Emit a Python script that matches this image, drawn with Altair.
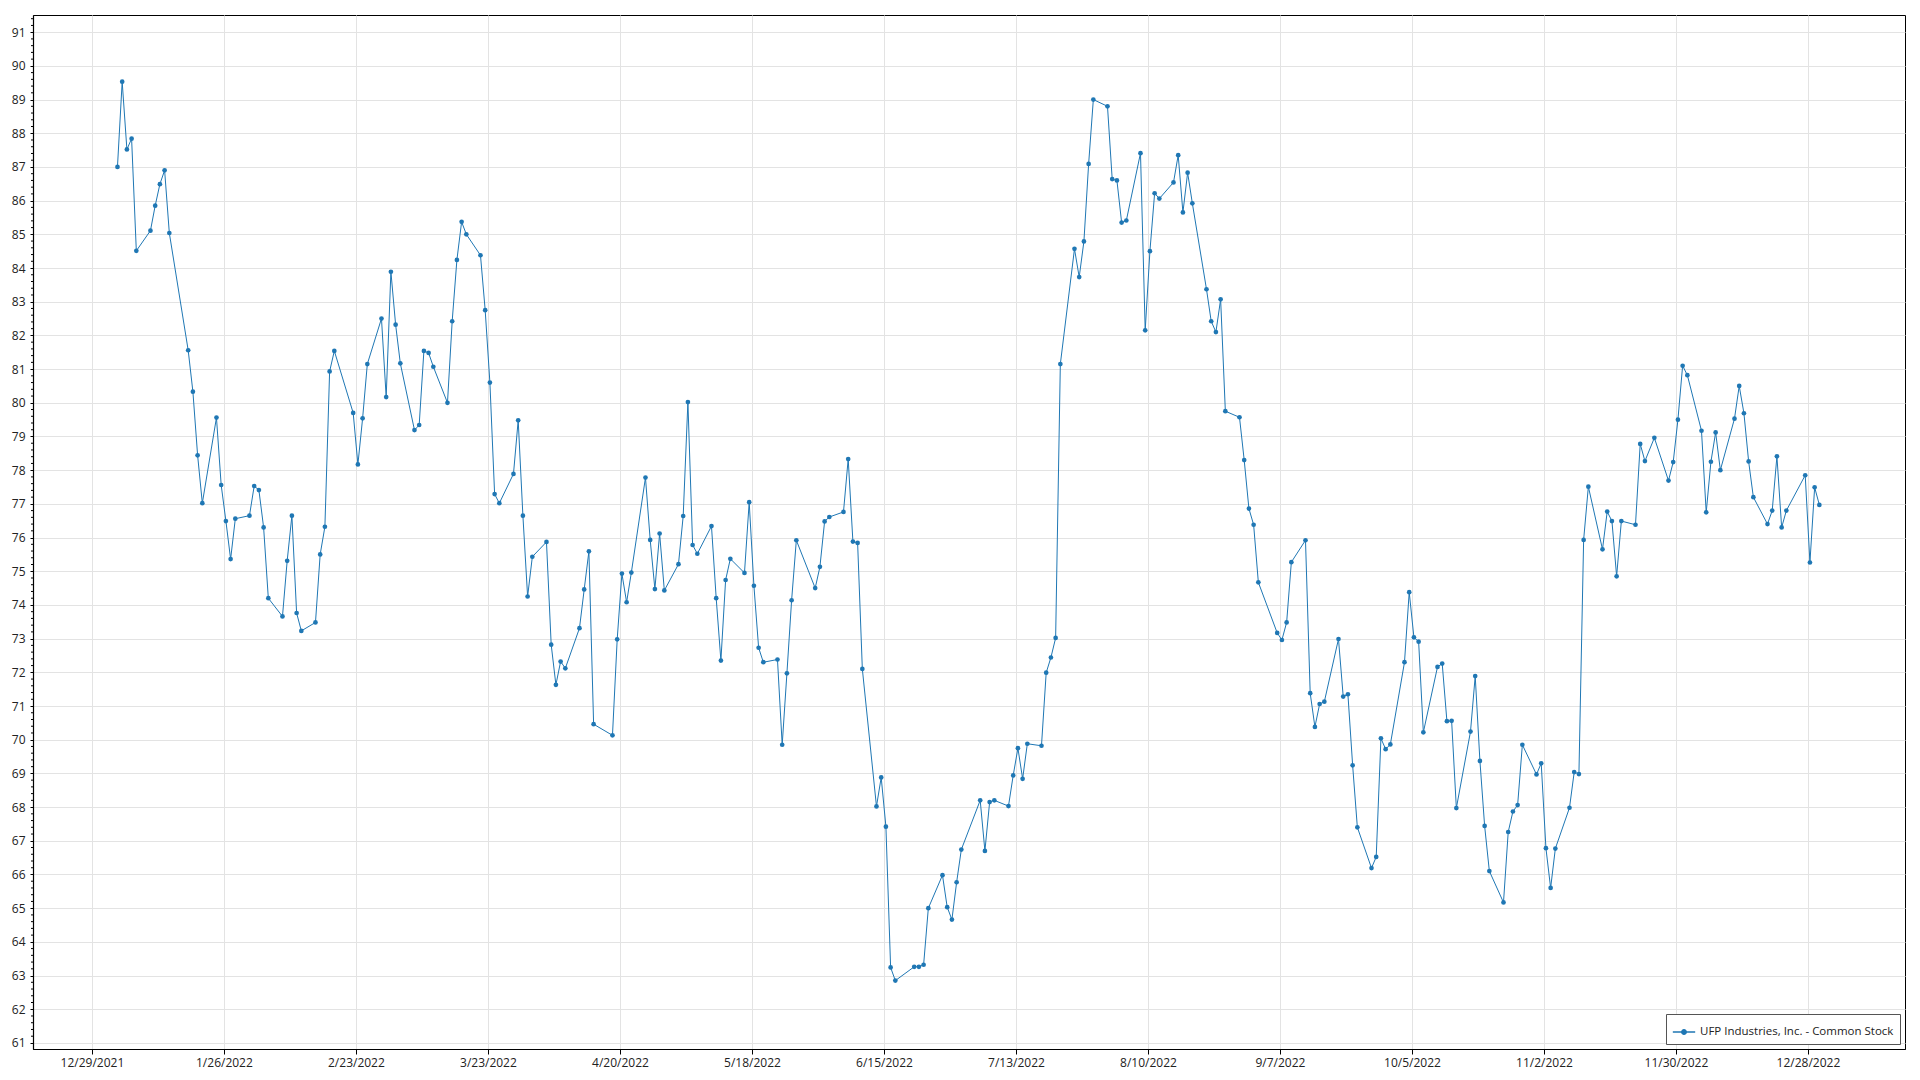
import altair as alt
import pandas as pd

SERIES = "UFP Industries, Inc. - Common Stock"
COLOR = "#1f77b4"
FONT = "Segoe UI, Open Sans, Noto Sans, sans-serif"

# Trading days (day of month) and closing prices, 2022
days_jan = [3, 4, 5, 6, 7, 10, 11, 12, 13, 14, 18, 19, 20, 21, 24, 25, 26, 27, 28, 31]
close_jan = [87.0, 89.53, 87.52, 87.84, 84.51, 85.11, 85.85, 86.49, 86.9, 85.04,
             81.56, 80.33, 78.44, 77.02, 79.56, 77.56, 76.49, 75.36, 76.56, 76.65]
days_feb = [1, 2, 3, 4, 7, 8, 9, 10, 11, 14, 15, 16, 17, 18, 22, 23, 24, 25, 28]
close_feb = [77.53, 77.41, 76.3, 74.2, 73.66, 75.31, 76.65, 73.76, 73.23, 73.48,
             75.5, 76.32, 80.93, 81.54, 79.7, 78.17, 79.54, 81.15, 82.5]
days_mar = [1, 2, 3, 4, 7, 8, 9, 10, 11, 14, 15, 16, 17, 18, 21, 22, 23, 24, 25, 28, 29, 30, 31]
close_mar = [80.17, 83.89, 82.32, 81.17, 79.19, 79.34, 81.54, 81.48, 81.07, 80.0,
             82.42, 84.24, 85.37, 85.0, 84.38, 82.75, 80.6, 77.29, 77.02, 77.89,
             79.48, 76.65, 74.25]
days_apr = [1, 4, 5, 6, 7, 8, 11, 12, 13, 14, 18, 19, 20, 21, 22, 25, 26, 27, 28, 29]
close_apr = [75.43, 75.87, 72.82, 71.63, 72.32, 72.12, 73.31, 74.46, 75.59, 70.46,
             70.13, 72.98, 74.93, 74.08, 74.96, 77.78, 75.93, 74.47, 76.12, 74.43]
days_may = [2, 3, 4, 5, 6, 9, 10, 11, 12, 13, 16, 17, 18, 19, 20, 23, 24, 25, 26, 27, 31]
close_may = [75.21, 76.64, 80.02, 75.78, 75.52, 76.34, 74.2, 72.35, 74.74, 75.37,
             74.95, 77.05, 74.57, 72.73, 72.3, 72.38, 69.85, 71.97, 74.14, 75.92, 74.5]
days_jun = [1, 2, 3, 6, 7, 8, 9, 10, 13, 14, 15, 16, 17, 21, 22, 23, 24, 27, 28, 29, 30]
close_jun = [75.13, 76.48, 76.61, 76.76, 78.33, 75.88, 75.84, 72.1, 68.02, 68.88,
             67.42, 63.24, 62.85, 63.26, 63.26, 63.32, 65.0, 65.98, 65.03, 64.66, 65.77]
days_jul = [1, 5, 6, 7, 8, 11, 12, 13, 14, 15, 18, 19, 20, 21, 22, 25, 26, 27, 28, 29]
close_jul = [66.74, 68.2, 66.7, 68.15, 68.2, 68.03, 68.94, 69.75, 68.84, 69.88,
             69.82, 71.99, 72.44, 73.02, 81.15, 84.57, 83.73, 84.79, 87.09, 89.0]
days_aug = [1, 2, 3, 4, 5, 8, 9, 10, 11, 12, 15, 16, 17, 18, 19, 22, 23, 24, 25, 26, 29, 30, 31]
close_aug = [88.8, 86.64, 86.6, 85.35, 85.41, 87.41, 82.15, 84.5, 86.22, 86.06,
             86.54, 87.35, 85.65, 86.83, 85.92, 83.37, 82.42, 82.1, 83.07, 79.75,
             79.57, 78.3, 76.86]
days_sep = [1, 2, 6, 7, 8, 9, 12, 13, 14, 15, 16, 19, 20, 21, 22, 23, 26, 27, 28, 29, 30]
close_sep = [76.38, 74.67, 73.17, 72.96, 73.48, 75.27, 75.92, 71.38, 70.38, 71.06,
             71.13, 72.99, 71.28, 71.35, 69.24, 67.4, 66.19, 66.52, 70.04, 69.72, 69.86]
days_oct = [3, 4, 5, 6, 7, 10, 11, 12, 13, 14, 17, 18, 19, 20, 21, 24, 25, 26, 27, 28, 31]
close_oct = [72.3, 74.38, 73.04, 72.91, 70.22, 72.16, 72.26, 70.55, 70.56, 67.97,
             70.24, 71.89, 69.37, 67.44, 66.1, 65.17, 67.26, 67.87, 68.06, 69.85, 68.97]
days_nov = [1, 2, 3, 4, 7, 8, 9, 10, 11, 14, 15, 16, 17, 18, 21, 22, 23, 25, 28, 29, 30]
close_nov = [69.3, 66.78, 65.6, 66.77, 67.98, 69.04, 68.98, 75.93, 77.51, 75.65,
             76.77, 76.49, 74.85, 76.49, 76.38, 78.78, 78.27, 78.96, 77.69, 78.24, 79.5]
days_dec = [1, 2, 5, 6, 7, 8, 9, 12, 13, 14, 15, 16, 19, 20, 21, 22, 23, 27, 28, 29, 30]
close_dec = [81.1, 80.82, 79.17, 76.75, 78.25, 79.12, 78.0, 79.53, 80.5, 79.69,
             78.26, 77.2, 76.4, 76.8, 78.41, 76.3, 76.8, 77.85, 75.26, 77.49, 76.97]

# x-axis tick dates (every 4 weeks)
tick_dates = [(2021, 12, 29), (2022, 1, 26), (2022, 2, 23), (2022, 3, 23), (2022, 4, 20),
              (2022, 5, 18), (2022, 6, 15), (2022, 7, 13), (2022, 8, 10), (2022, 9, 7),
              (2022, 10, 5), (2022, 11, 2), (2022, 11, 30), (2022, 12, 28)]
y_ticks = list(range(61, 92))
# minor y ticks: four between each pair of labelled values
y_minor_steps = [0.2, 0.4, 0.6, 0.8]
y_minor = [round(k + t, 1) for k in range(60, 92) for t in y_minor_steps
           if 60.82 < k + t < 91.51]

months = [(1, days_jan, close_jan), (2, days_feb, close_feb), (3, days_mar, close_mar),
          (4, days_apr, close_apr), (5, days_may, close_may), (6, days_jun, close_jun),
          (7, days_jul, close_jul), (8, days_aug, close_aug), (9, days_sep, close_sep),
          (10, days_oct, close_oct), (11, days_nov, close_nov), (12, days_dec, close_dec)]
rows = []
for m, ds, cs in months:
    for d, c in zip(ds, cs):
        rows.append({"date": f"2022-{m:02d}-{d:02d}T10:00:00Z", "close": c, "series": SERIES})
df = pd.DataFrame(rows)
minor_df = pd.DataFrame({"close": y_minor})

tick_vals = [alt.DateTime(year=y, month=m, date=d, utc=True) for (y, m, d) in tick_dates]
x_domain = [alt.DateTime(year=2021, month=12, date=16, hours=12, utc=True),
            alt.DateTime(year=2023, month=1, date=17, hours=14, utc=True)]
y_scale = alt.Scale(domain=[60.82, 91.51], nice=False, zero=False)
y_axis = alt.Axis(values=y_ticks, title=None,
                  labelFont=FONT, labelFontSize=12, labelColor="#222",
                  labelPadding=5, tickSize=3, tickColor="#000",
                  domainColor="#000", domainWidth=1.2,
                  grid=True, gridColor="#e3e3e3", gridWidth=1,
                  labelOverlap=False)

legend_symbol = "M-1,0H1M-0.2,0A0.2,0.2,0,1,0,0.2,0A0.2,0.2,0,1,0,-0.2,0Z"

base = alt.Chart(df).encode(
    x=alt.X("date:T",
            scale=alt.Scale(type="utc", domain=x_domain, nice=False),
            axis=alt.Axis(values=tick_vals, title=None,
                          labelExpr="utcFormat(datum.value, '%-m/%-d/%Y')",
                          labelFont=FONT, labelFontSize=12, labelColor="#222",
                          labelPadding=3, tickSize=5, tickColor="#000",
                          domainColor="#000", domainWidth=1.2,
                          grid=True, gridColor="#e3e3e3", gridWidth=1,
                          labelOverlap=False)),
    y=alt.Y("close:Q", scale=y_scale, axis=y_axis),
    color=alt.Color("series:N",
                    scale=alt.Scale(range=[COLOR]),
                    legend=alt.Legend(title=None, orient="bottom-right", offset=5,
                                      fillColor="white", strokeColor="#555",
                                      padding=6, labelFont=FONT, labelFontSize=11.5,
                                      labelColor="#222", labelLimit=400,
                                      symbolType=legend_symbol, symbolSize=500,
                                      symbolStrokeWidth=1.5,
                                      symbolStrokeColor=COLOR,
                                      symbolFillColor=COLOR)),
)

line = base.mark_line(strokeWidth=1, clip=True)
pts = base.mark_circle(size=22, opacity=1, clip=True)

minor = alt.Chart(minor_df).mark_rule(color="#000", strokeWidth=1, clip=False).encode(
    x=alt.value(-2), x2=alt.value(0),
    y=alt.Y("close:Q", scale=y_scale, axis=y_axis),
)

chart = alt.layer(line, pts, minor).properties(
    width=1872, height=1034,
    autosize=alt.AutoSizeParams(type="none"),
    padding={"left": 25, "top": 7, "right": 7, "bottom": 23},
).configure_view(stroke="#000", strokeWidth=1)

chart.save("out.html", embed_options={"renderer": "svg", "actions": False})
